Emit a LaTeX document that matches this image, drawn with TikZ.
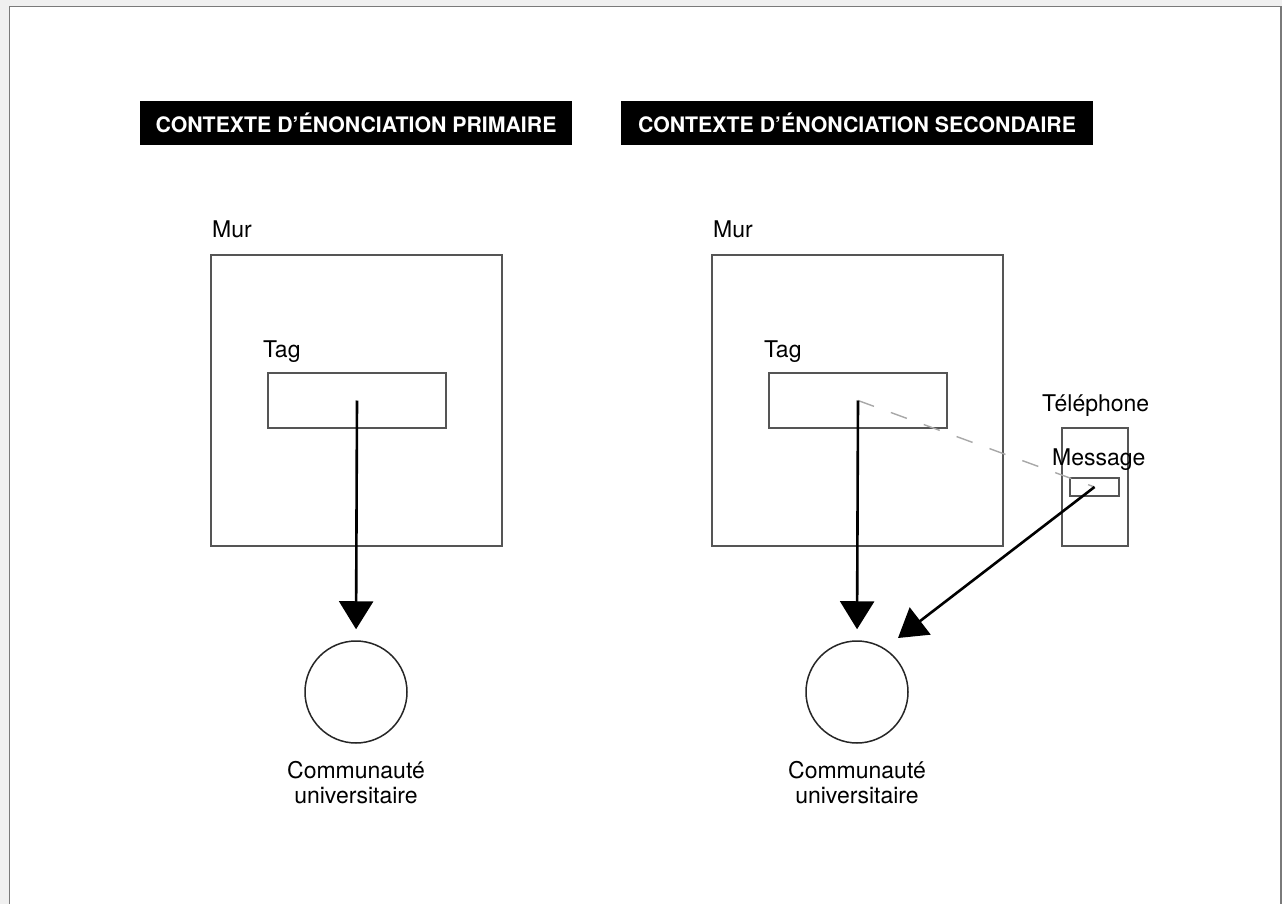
\documentclass[tikz,border=0pt]{standalone}
\usepackage{fontspec}
\setmainfont{TeX Gyre Heros}
\usetikzlibrary{arrows.meta}
\definecolor{outerbg}{HTML}{F0F0F0}
\definecolor{framecol}{HTML}{7A7A7A}
\definecolor{boxcol}{HTML}{555555}
\definecolor{dashcol}{HTML}{A8A8A8}
\tikzset{
  lbl/.style={anchor=base west, inner sep=0pt, font=\fontsize{23}{25}\selectfont},
  ctr/.style={anchor=base, inner sep=0pt, align=center, font=\fontsize{23}{24.5}\selectfont},
  titlebox/.style={fill=black, text=white, inner sep=0pt, minimum height=44, font=\bfseries\fontsize{21.3}{24}\selectfont},
  box/.style={draw=boxcol, line width=1.3pt, inner sep=0pt, fill=none},
  circ/.style={draw=black!85, line width=1.5pt, circle, inner sep=0pt, minimum size=102},
  bigarrow/.style={line width=2.6pt, -{Triangle[length=28pt,width=34pt]}},
  dashline/.style={draw=dashcol, line width=1.4pt, dash pattern=on 17pt off 18pt}
}
\begin{document}
\begin{tikzpicture}[x=1pt,y=-1pt]
\useasboundingbox (0,0) rectangle (1282,904);
\fill[outerbg] (0,0) rectangle (1282,904);
\fill[white] (9.5,6.5) rectangle (1281,904);
\draw[framecol, line width=1.6pt] (9.5,904) -- (9.5,6.5) -- (1281,6.5) -- (1281,904);

% titles
\node[titlebox, minimum width=432] (t1) at (356,123) {CONTEXTE D’ÉNONCIATION PRIMAIRE};
\node[titlebox, minimum width=472] (t2) at (857,123) {CONTEXTE D’ÉNONCIATION SECONDAIRE};

% left column
\node[lbl] (murLlbl) at (212,237) {Mur};
\node[box, minimum width=291, minimum height=291] (murL) at (356.5,400.5) {};
\node[lbl] (tagLlbl) at (263,357) {Tag};
\node[box, minimum width=178, minimum height=55] (tagL) at (357,400.5) {};
\node[circ] (circL) at (356,692) {};
\node[ctr] (comL) at (356,803) {Communauté\\universitaire};
\draw[bigarrow, shorten >=11pt] (tagL.center) -- (circL.north);

% right column
\node[lbl] (murRlbl) at (713,237) {Mur};
\node[box, minimum width=291, minimum height=291] (murR) at (857.5,400.5) {};
\node[lbl] (tagRlbl) at (764,357) {Tag};
\node[box, minimum width=178, minimum height=55] (tagR) at (858,400.5) {};
\node[circ] (circR) at (857,692) {};
\node[ctr] (comR) at (857,803) {Communauté\\universitaire};

% telephone
\node[lbl] (telLbl) at (1042,411) {Téléphone};
\node[box, minimum width=66, minimum height=118] (phone) at (1095,487) {};
\node[box, minimum width=49, minimum height=18] (msg) at (1094.5,487) {};
\node[lbl] (msgLbl) at (1052,465) {Message};

\draw[dashline] (tagR.center) -- (msg.center);
\draw[bigarrow, shorten >=11pt] (tagR.center) -- (circR.north);
\coordinate (tipR) at (898,638);
\draw[bigarrow] (msg.center) -- (tipR);
\end{tikzpicture}
\end{document}
